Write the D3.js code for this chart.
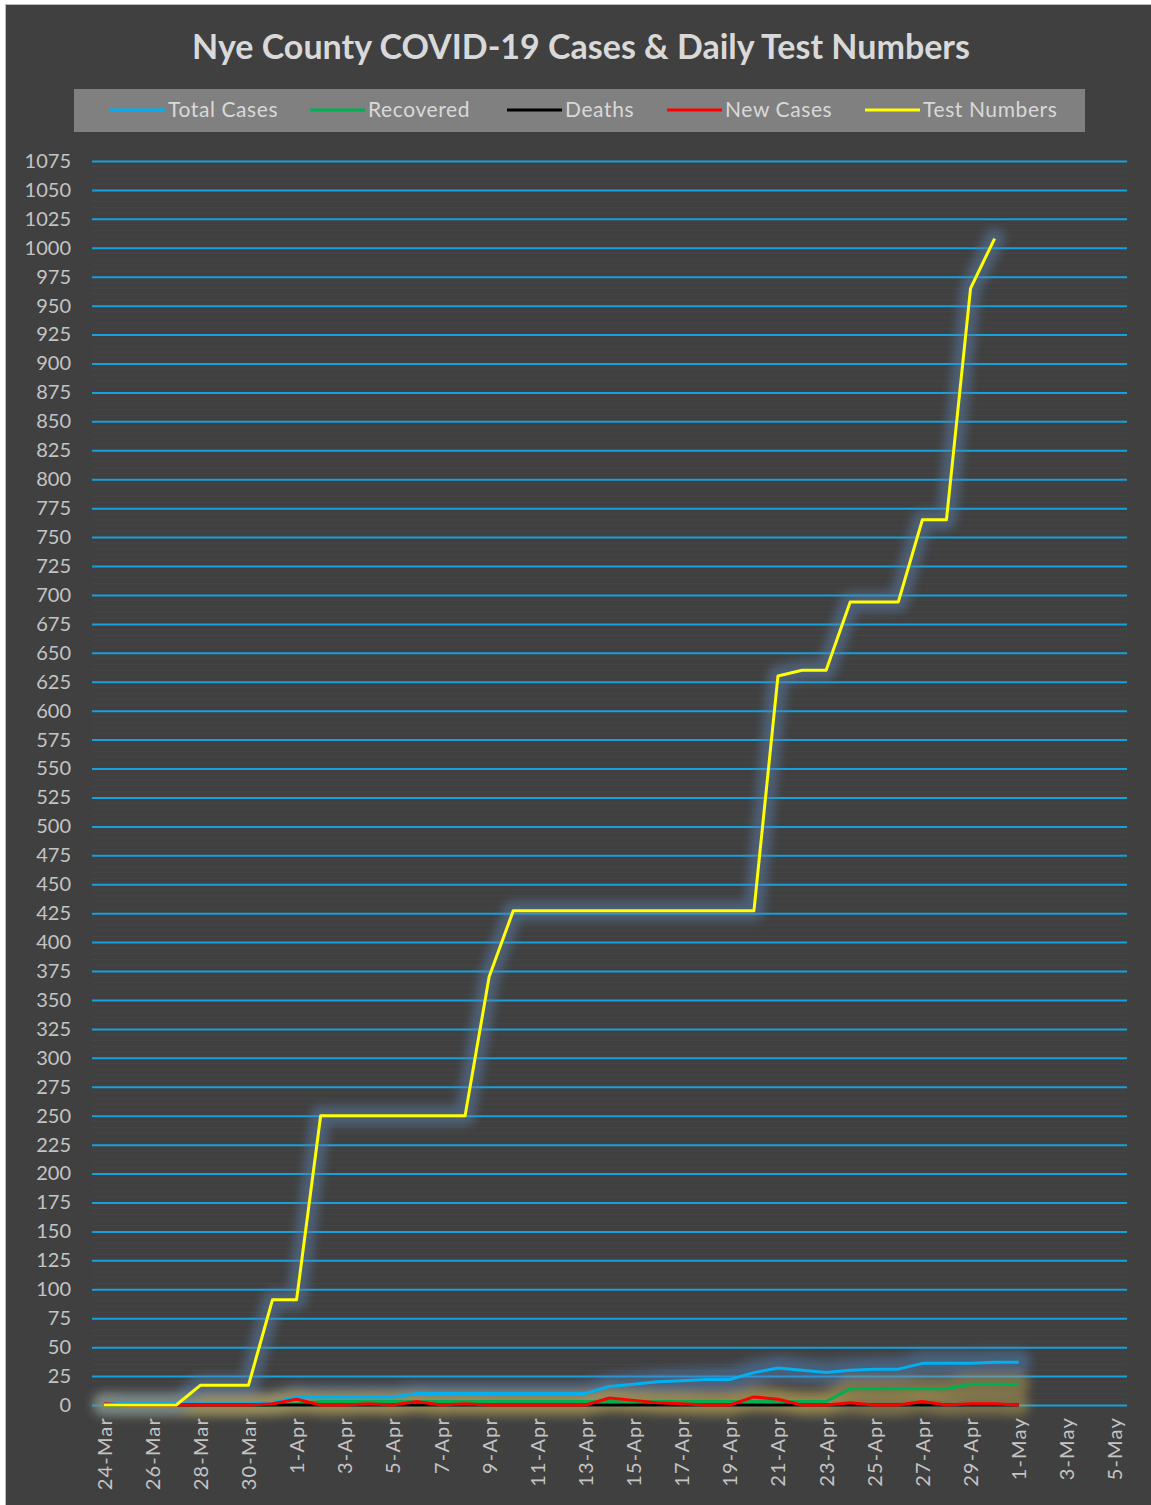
<!DOCTYPE html>
<html>
<head>
<meta charset="utf-8">
<script src="https://cdn.jsdelivr.net/npm/d3@7"></script>
<style>
  html, body { margin: 0; padding: 0; background: #ffffff; }
  #root { width: 1151px; height: 1505px; }
  text { font-family: Lato, "Open Sans", sans-serif; }
</style>
</head>
<body>
<div id="root"></div>
<script>
const dates = [
  "24-Mar", "25-Mar", "26-Mar", "27-Mar", "28-Mar", "29-Mar", "30-Mar", "31-Mar",
  "1-Apr", "2-Apr", "3-Apr", "4-Apr", "5-Apr", "6-Apr", "7-Apr", "8-Apr", "9-Apr",
  "10-Apr", "11-Apr", "12-Apr", "13-Apr", "14-Apr", "15-Apr", "16-Apr", "17-Apr",
  "18-Apr", "19-Apr", "20-Apr", "21-Apr", "22-Apr", "23-Apr", "24-Apr", "25-Apr",
  "26-Apr", "27-Apr", "28-Apr", "29-Apr", "30-Apr", "1-May", "2-May", "3-May",
  "4-May", "5-May"
];
const xTickLabels = [
  "24-Mar", "26-Mar", "28-Mar", "30-Mar", "1-Apr", "3-Apr", "5-Apr", "7-Apr",
  "9-Apr", "11-Apr", "13-Apr", "15-Apr", "17-Apr", "19-Apr", "21-Apr", "23-Apr",
  "25-Apr", "27-Apr", "29-Apr", "1-May", "3-May", "5-May"
];
const yTicks = d3.range(0, 1076, 25);

const totalCases = [1, 1, 1, 1, 1, 1, 1, 2, 7, 7, 7, 7, 7, 10, 10, 10, 10, 10, 10, 10,
  10, 16, 18, 20, 21, 22, 22, 28, 32, 30, 28, 30, 31, 31, 36, 36, 36, 37, 37];
const recovered = [0, 0, 0, 0, 0, 0, 0, 0, 1, 3, 3, 3, 3, 3, 3, 3, 3, 3, 3, 3,
  3, 3, 3, 3, 3, 3, 3, 3, 3, 3, 3, 14, 14, 14, 14, 14, 18, 18, 18];
const deaths = [0, 0, 0, 0, 0, 0, 0, 0, 0, 0, 0, 0, 0, 0, 0, 0, 0, 0, 0, 0,
  0, 0, 0, 0, 0, 0, 0, 0, 0, 0, 0, 0, 0, 0, 0, 0, 0, 0, 0];
const newCases = [1, 0, 0, 0, 0, 0, 0, 1, 5, 0, 0, 1, 0, 3, 0, 1, 0, 0, 0, 0,
  0, 6, 4, 2, 1, 0, 0, 7, 5, 0, 0, 2, 0, 0, 3, 0, 1, 1, 0];
const testNumbers = [0, 0, 0, 0, 17, 17, 17, 91, 91, 250, 250, 250, 250, 250, 250, 250,
  370, 427, 427, 427, 427, 427, 427, 427, 427, 427, 427, 427, 630, 635, 635,
  694, 694, 694, 765, 765, 965, 1008];

const seriesNames = ["Total Cases", "Recovered", "Deaths", "New Cases", "Test Numbers"];
const seriesValues = [totalCases, recovered, deaths, newCases, testNumbers];
const seriesColors = ["#00b0f0", "#00b050", "#000000", "#ff0000", "#ffff00"];
const glowColors = ["#4f7fb5", "#b29e52", "#b29e52", "#b29e52", "#5a80ac"];

const width = 1151;
const height = 1505;

const svg = d3
  .select("#root")
  .append("svg")
  .attr("width", width)
  .attr("height", height)
  .attr("viewBox", [0, 0, width, height]);

// chart background with thin frame
svg
  .append("rect")
  .attr("x", 5.5)
  .attr("y", 4.5)
  .attr("width", width)
  .attr("height", height)
  .attr("fill", "#404040")
  .attr("stroke", "#bdbdbd")
  .attr("stroke-width", 1);

const defs = svg.append("defs");
defs
  .append("filter")
  .attr("id", "blur")
  .attr("x", "-20%")
  .attr("y", "-20%")
  .attr("width", "140%")
  .attr("height", "140%")
  .append("feGaussianBlur")
  .attr("stdDeviation", 5);

const plotLeft = 92;
const plotRight = 1127;
const plotTop = 161;
const plotBottom = 1405;

const x = d3.scalePoint().domain(dates).range([plotLeft, plotRight]).padding(0.5);
const y = d3.scaleLinear().domain([0, 1075]).range([plotBottom, plotTop]);

// faint minor stripes
svg
  .append("g")
  .selectAll("line")
  .data(d3.range(5, 1075, 5).filter((v) => v % 25 !== 0))
  .join("line")
  .attr("x1", plotLeft)
  .attr("x2", plotRight)
  .attr("y1", (d) => y(d))
  .attr("y2", (d) => y(d))
  .attr("stroke", "#454545")
  .attr("stroke-width", 1);

// y axis + gridlines
const yAxis = svg
  .append("g")
  .attr("transform", `translate(${plotLeft},0)`)
  .call(
    d3
      .axisLeft(y)
      .tickValues(yTicks)
      .tickFormat(d3.format("d"))
      .tickSize(-(plotRight - plotLeft))
      .tickPadding(21)
  );
yAxis.select(".domain").remove();
yAxis.selectAll("line").attr("stroke", "#17a1dc").attr("stroke-width", 2);
yAxis
  .selectAll("text")
  .attr("fill", "#c4c4c4")
  .style("font-size", "20px")
  .style("font-family", "Lato, sans-serif");

// x axis labels
const xAxis = svg
  .append("g")
  .attr("transform", `translate(0,${plotBottom})`)
  .call(d3.axisBottom(x).tickValues(xTickLabels).tickSize(0));
xAxis.select(".domain").remove();
xAxis
  .selectAll("text")
  .attr("fill", "#c4c4c4")
  .style("font-size", "20px")
  .style("letter-spacing", "1.2px")
  .style("font-family", "Lato, sans-serif")
  .attr("text-anchor", "end")
  .attr("transform", "rotate(-90)")
  .attr("x", -12)
  .attr("y", 0)
  .attr("dy", "0.35em");

// series
const line = d3
  .line()
  .x((d, i) => x(dates[i]))
  .y((d) => y(d));

const glowWidths = [24, 22, 0, 22, 20];
const glow = svg.append("g").attr("filter", "url(#blur)");
seriesValues.forEach((vals, k) => {
  glow
    .append("path")
    .attr("d", line(vals))
    .attr("fill", "none")
    .attr("stroke", glowColors[k])
    .attr("stroke-width", glowWidths[k])
    .attr("stroke-linejoin", "round")
    .attr("stroke-linecap", "round")
    .attr("opacity", k === 2 ? 0 : 0.5);
});

const lines = svg.append("g");
seriesValues.forEach((vals, k) => {
  lines
    .append("path")
    .attr("d", line(vals))
    .attr("fill", "none")
    .attr("stroke", seriesColors[k])
    .attr("stroke-width", 3)
    .attr("stroke-linejoin", "round");
});

// title
svg
  .append("text")
  .attr("x", 581)
  .attr("y", 59)
  .attr("text-anchor", "middle")
  .attr("fill", "#d9d9d9")
  .style("font-size", "34px")
  .style("font-weight", "bold")
  .text("Nye County COVID-19 Cases & Daily Test Numbers");

// legend
const legendBox = svg.append("g");
legendBox
  .append("rect")
  .attr("x", 74)
  .attr("y", 89)
  .attr("width", 1011)
  .attr("height", 43)
  .attr("fill", "#808080");

const legendX = [110, 310, 507, 667, 865];
const legend = legendBox
  .selectAll("g")
  .data(seriesNames)
  .join("g")
  .attr("transform", (d, i) => `translate(${legendX[i]},110)`);
legend
  .append("line")
  .attr("x1", 0)
  .attr("x2", 55)
  .attr("stroke", (d, i) => seriesColors[i])
  .attr("stroke-width", 3);
legend
  .append("text")
  .attr("x", 58)
  .attr("dy", "0.35em")
  .attr("fill", "#d9d9d9")
  .style("font-size", "21px")
  .style("letter-spacing", "0.6px")
  .text((d) => d);
</script>
</body>
</html>
